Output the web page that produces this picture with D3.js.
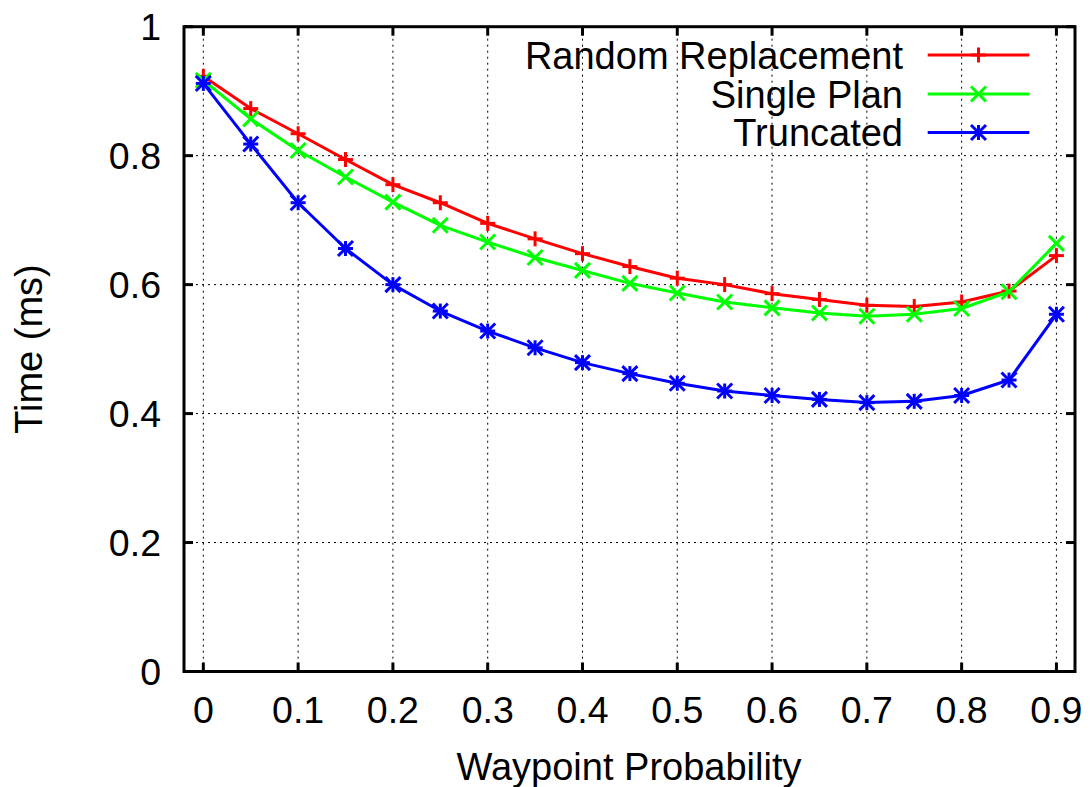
<!DOCTYPE html>
<html><head><meta charset="utf-8">
<script src="https://cdn.jsdelivr.net/npm/d3@7"></script>
<style>body{margin:0;background:#fff}svg{display:block}text{font-family:"Liberation Sans",Arial,Helvetica,sans-serif}</style>
</head><body>
<script>
const xValues = [0,0.05,0.1,0.15,0.2,0.25,0.3,0.35,0.4,0.45,0.5,0.55,0.6,0.65,0.7,0.75,0.8,0.85,0.9];
const randomReplacement = [0.923,0.873,0.834,0.794,0.755,0.727,0.695,0.671,0.648,0.628,0.610,0.600,0.586,0.577,0.568,0.566,0.573,0.590,0.645];
const singlePlan = [0.917,0.857,0.808,0.767,0.728,0.692,0.666,0.642,0.622,0.602,0.587,0.573,0.564,0.556,0.551,0.554,0.563,0.589,0.664];
const truncated = [0.912,0.818,0.727,0.656,0.600,0.559,0.528,0.502,0.479,0.462,0.447,0.435,0.428,0.422,0.417,0.419,0.428,0.452,0.554];
const xTicks = [0,0.1,0.2,0.3,0.4,0.5,0.6,0.7,0.8,0.9];
const xTickLabels = ["0","0.1","0.2","0.3","0.4","0.5","0.6","0.7","0.8","0.9"];
const yTicks = [0,0.2,0.4,0.6,0.8,1];
const yTickLabels = ["0","0.2","0.4","0.6","0.8","1"];
const seriesNames = ["Random Replacement","Single Plan","Truncated"];
const seriesColors = ["#ff0000","#00ff00","#0000ff"];
const seriesMarkers = ["plus","cross","star"];

const W=1090,H=787;
const L=184,R=1075,T=26.7,B=671.5;
const svg=d3.select("body").append("svg").attr("width",W).attr("height",H);
const x=d3.scaleLinear().domain([-0.0204,0.9196]).range([L,R]);
const y=d3.scaleLinear().domain([0,1]).range([B,T]);
const fs=38, tfs=37.5;

// grid
const g=svg.append("g");
xTicks.forEach(t=>{ g.append("line").attr("x1",x(t)).attr("x2",x(t)).attr("y1",T).attr("y2",B).attr("stroke","#000").attr("stroke-width",1).attr("stroke-dasharray","2,4");});
yTicks.forEach(t=>{ if(t>0.01 && t<0.99) g.append("line").attr("x1",L).attr("x2",R).attr("y1",y(t)).attr("y2",y(t)).attr("stroke","#000").attr("stroke-width",1).attr("stroke-dasharray","2,4");});

// ticks
const tl=9;
xTicks.forEach(t=>{
  svg.append("line").attr("x1",x(t)).attr("x2",x(t)).attr("y1",B).attr("y2",B-tl).attr("stroke","#000").attr("stroke-width",3);
  svg.append("line").attr("x1",x(t)).attr("x2",x(t)).attr("y1",T).attr("y2",T+tl).attr("stroke","#000").attr("stroke-width",3);
});
yTicks.forEach(t=>{
  svg.append("line").attr("x1",L).attr("x2",L+tl).attr("y1",y(t)).attr("y2",y(t)).attr("stroke","#000").attr("stroke-width",3);
  svg.append("line").attr("x1",R).attr("x2",R-tl).attr("y1",y(t)).attr("y2",y(t)).attr("stroke","#000").attr("stroke-width",3);
});
xTicks.forEach((t,i)=>svg.append("text").attr("x",x(t)).attr("y",722.5).attr("text-anchor","middle").attr("font-size",tfs).text(xTickLabels[i]));
yTicks.forEach((t,i)=>svg.append("text").attr("x",161).attr("y",y(t)).attr("dy","0.36em").attr("text-anchor","end").attr("font-size",tfs).text(yTickLabels[i]));

svg.append("text").attr("x",629).attr("y",780).attr("text-anchor","middle").attr("font-size",fs).text("Waypoint Probability");
svg.append("text").attr("transform",`translate(42,349) rotate(-90)`).attr("text-anchor","middle").attr("font-size",fs).text("Time (ms)");

function marker(sel,type,cx,cy,color){
  const s=7.5;
  const gg=sel.append("g").attr("stroke",color).attr("stroke-width",3).attr("fill","none");
  const ln=(a,b,c,d)=>gg.append("line").attr("x1",cx+a).attr("y1",cy+b).attr("x2",cx+c).attr("y2",cy+d);
  if(type==="plus"||type==="star"){ln(-s,0,s,0);ln(0,-s,0,s);}
  if(type==="cross"||type==="star"){ln(-s,-s,s,s);ln(-s,s,s,-s);}
}
const all=[randomReplacement,singlePlan,truncated];
const line=d3.line().x((d,i)=>x(xValues[i])).y(d=>y(d));
all.forEach((vals,k)=>{
  svg.append("path").datum(vals).attr("d",line).attr("fill","none").attr("stroke",seriesColors[k]).attr("stroke-width",3).attr("stroke-linejoin","round");
  vals.forEach((v,i)=>marker(svg,seriesMarkers[k],x(xValues[i]),y(v),seriesColors[k]));
});

// legend
const legY=[55,94,132.5];
seriesNames.forEach((n,k)=>{
  svg.append("text").attr("x",903).attr("y",legY[k]).attr("dy","0.36em").attr("text-anchor","end").attr("font-size",fs).text(n);
  svg.append("line").attr("x1",927.7).attr("x2",1029.3).attr("y1",legY[k]).attr("y2",legY[k]).attr("stroke",seriesColors[k]).attr("stroke-width",3);
  marker(svg,seriesMarkers[k],978.5,legY[k],seriesColors[k]);
});

// frame
svg.append("rect").attr("x",L).attr("y",T).attr("width",R-L).attr("height",B-T).attr("fill","none").attr("stroke","#000").attr("stroke-width",3);
</script>
</body></html>
